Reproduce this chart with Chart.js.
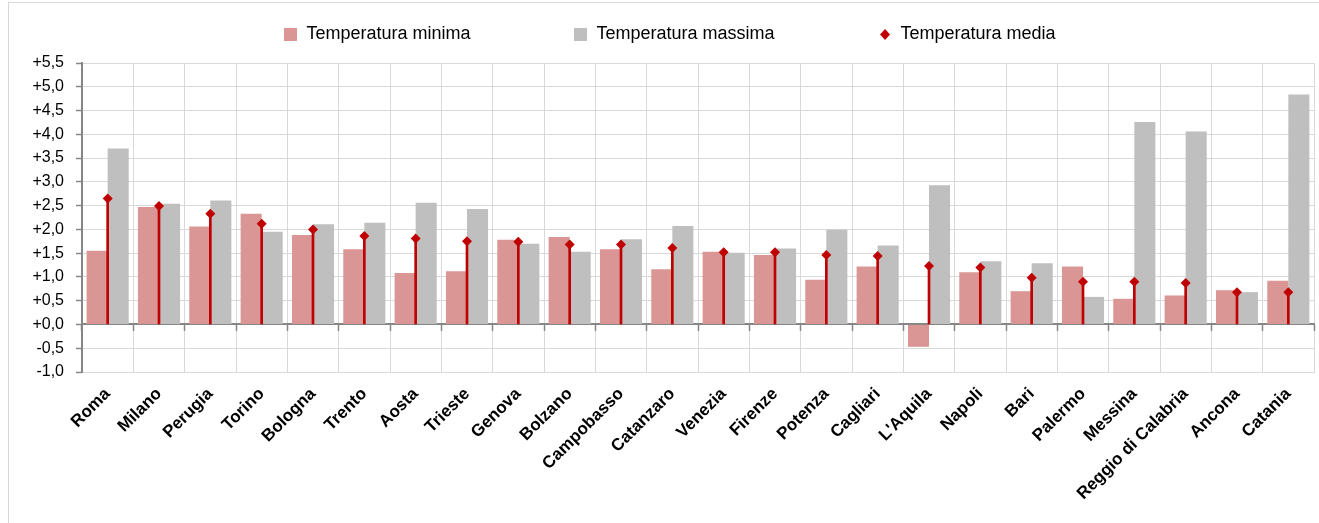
<!DOCTYPE html>
<html><head><meta charset="utf-8">
<script src="https://cdn.jsdelivr.net/npm/chart.js@4.4.1/dist/chart.umd.min.js"></script>
<style>
html,body{margin:0;padding:0;background:#fff;overflow:hidden}
#wrap{position:relative;width:1319px;height:523px;background:#fff}
#frame{position:absolute;left:8px;top:2px;width:1400px;height:600px;border:1px solid #d9d9d9;pointer-events:none}
canvas{position:absolute;left:0;top:0}
</style></head><body>
<div id="wrap"><canvas id="c" width="1319" height="523"></canvas><div id="frame"></div></div>
<script>
const cities = ['Roma','Milano','Perugia','Torino','Bologna','Trento','Aosta','Trieste','Genova','Bolzano','Campobasso','Catanzaro','Venezia','Firenze','Potenza','Cagliari',"L'Aquila",'Napoli','Bari','Palermo','Messina','Reggio di Calabria','Ancona','Catania'];
const tempMin   = [1.55,2.47,2.06,2.33,1.88,1.58,1.08,1.12,1.78,1.84,1.58,1.16,1.53,1.46,0.94,1.22,-0.47,1.10,0.70,1.22,0.54,0.61,0.72,0.92];
const tempMax   = [3.70,2.54,2.61,1.95,2.11,2.14,2.56,2.43,1.70,1.53,1.79,2.07,1.51,1.60,1.99,1.66,2.93,1.33,1.29,0.58,4.26,4.06,0.68,4.84];
const tempMedia = [2.65,2.49,2.33,2.12,2.00,1.86,1.81,1.75,1.74,1.68,1.68,1.61,1.52,1.52,1.46,1.44,1.23,1.20,0.98,0.90,0.90,0.87,0.68,0.68];
const seriesNames = ['Temperatura minima','Temperatura massima','Temperatura media'];
const yMin = -1.0, yMax = 5.5, yStep = 0.5;

const colMin = '#d99694', colMax = '#bfbfbf', colMed = '#c00000';
const FONT = "'Liberation Sans', Arial, sans-serif";

function squareIcon(color, s) {
  const c = document.createElement('canvas'); c.width = s; c.height = s;
  const g = c.getContext('2d'); g.fillStyle = color; g.fillRect(0, 0, s, s); return c;
}
function diamondIcon(color, w, h) {
  const c = document.createElement('canvas'); c.width = w; c.height = h;
  const g = c.getContext('2d'); g.fillStyle = color; g.beginPath();
  g.moveTo(w/2, 0); g.lineTo(w, h/2); g.lineTo(w/2, h); g.lineTo(0, h/2); g.closePath(); g.fill(); return c;
}
const icons = [squareIcon(colMin, 13), squareIcon(colMax, 13), diamondIcon(colMed, 10, 11)];
const iconColors = [colMin, colMax, colMed];

const fmt = v => { const r = Math.round(v * 10) / 10; return (r < 0 ? '-' : '+') + Math.abs(r).toFixed(1).replace('.', ','); };

const legendSpacer = {
  id: 'legendSpacer',
  beforeInit(chart) {
    const orig = chart.legend.fit;
    chart.legend.fit = function () { orig.call(this); this.height += 9.5; };
  }
};

new Chart(document.getElementById('c'), {
  type: 'bar',
  data: {
    labels: cities,
    datasets: [
      { type: 'line', label: seriesNames[2], data: tempMedia, showLine: false, pointStyle: 'rectRot',
        pointRadius: 5, pointHoverRadius: 5, pointBackgroundColor: colMed, pointBorderColor: colMed,
        pointBorderWidth: 0, borderColor: colMed, backgroundColor: colMed, order: 0, xAxisID: 'x', yAxisID: 'y' },
      { type: 'bar', label: 'stem', data: tempMedia.map(v => [0, v]), grouped: false, barThickness: 2,
        backgroundColor: colMed, borderWidth: 0, order: 1, xAxisID: 'x', yAxisID: 'y' },
      { type: 'bar', label: seriesNames[0], data: tempMin, backgroundColor: colMin, borderWidth: 0,
        categoryPercentage: 0.82, barPercentage: 1.0, order: 2, xAxisID: 'x', yAxisID: 'y' },
      { type: 'bar', label: seriesNames[1], data: tempMax, backgroundColor: colMax, borderWidth: 0,
        categoryPercentage: 0.82, barPercentage: 1.0, order: 3, xAxisID: 'x', yAxisID: 'y' }
    ]
  },
  options: {
    responsive: false,
    animation: false,
    devicePixelRatio: 1,
    layout: { padding: { top: -78.5, left: 25, right: 4, bottom: 0 } },
    plugins: {
      tooltip: { enabled: false },
      legend: {
        position: 'top',
        labels: {
          usePointStyle: true, boxWidth: 13, boxHeight: 13, padding: 104,
          color: '#000', font: { family: FONT, size: 18 },
          generateLabels: () => seriesNames.map((t, i) => ({
            text: t, pointStyle: icons[i], fillStyle: iconColors[i], strokeStyle: iconColors[i],
            lineWidth: 0, hidden: false, datasetIndex: i === 2 ? 0 : i + 2, fontColor: '#000'
          }))
        }
      }
    },
    scales: {
      x: {
        type: 'category', position: 'bottom', offset: true,
        grid: { offset: true, color: '#d9d9d9', lineWidth: 1, drawTicks: false },
        border: { color: '#d9d9d9', width: 1 },
        ticks: { autoSkip: false, minRotation: 45, maxRotation: 45, padding: 12, color: '#000',
                 font: { family: FONT, size: 17, weight: 'bold' } },
        afterFit(s) { s.height = 151; }
      },
      x2: {
        type: 'category', axis: 'x', position: { y: 0 }, offset: true,
        grid: { offset: true, drawOnChartArea: false, tickLength: 6, tickColor: '#868686', tickWidth: 1.5 },
        border: { color: '#868686', width: 2 },
        ticks: { display: false }
      },
      y: {
        position: 'left', min: yMin, max: yMax,
        ticks: { stepSize: yStep, padding: 12, color: '#000', font: { family: FONT, size: 16 }, callback: fmt },
        grid: { color: '#d9d9d9', lineWidth: 1, tickLength: 6, tickColor: '#868686', tickWidth: 1.5 },
        border: { color: '#868686', width: 2 },
        afterFit(s) { s.width = 57; }
      }
    }
  },
  plugins: [legendSpacer]
});
</script>
</body></html>
